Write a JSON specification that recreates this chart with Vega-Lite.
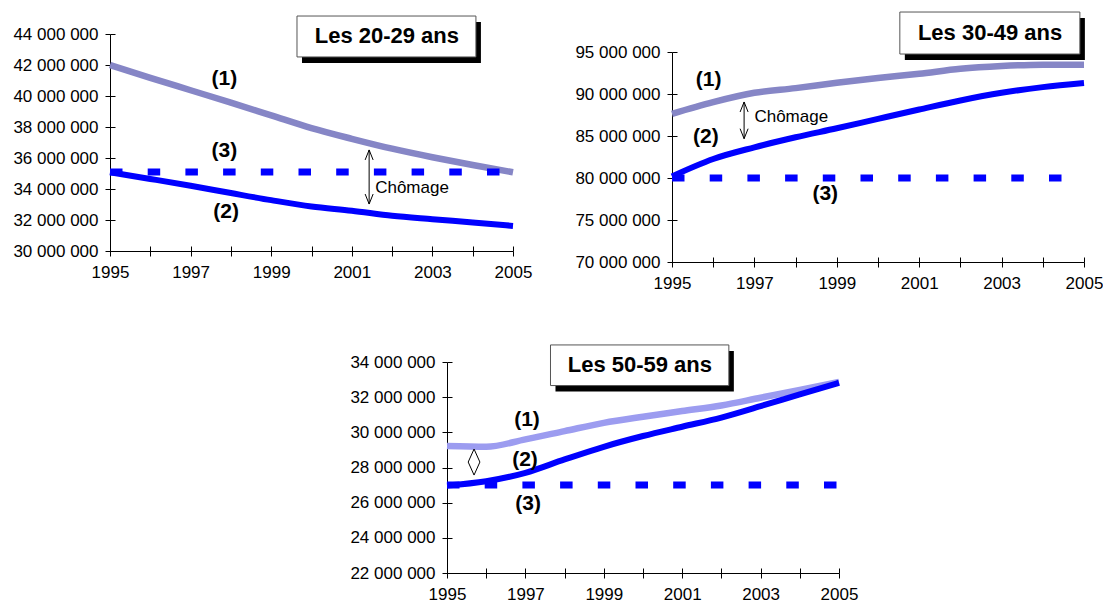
{
  "$schema": "https://vega.github.io/schema/vega-lite/v6.json",
  "background": "white",
  "padding": {"left": 12, "top": 11, "right": 0, "bottom": 0},
  "bounds": "flush",
  "spacing": 328,
  "config": {
    "view": {"stroke": null},
    "font": "Liberation Sans",
    "axis": {"labelFont": "Liberation Sans", "labelFontSize": 17, "labelColor": "black", "domainColor": "black", "tickColor": "black", "grid": false, "title": null, "tickSize": 5, "labelFlush": false, "labelOverlap": false},
    "axisX": {"labelPadding": 8},
    "axisY": {"labelPadding": 7}
  },
  "datasets": {
    "series": [
      {"p":"A","s":1,"yr":1995,"v":42000000},{"p":"A","s":1,"yr":1996,"v":41170000},{"p":"A","s":1,"yr":1997,"v":40370000},{"p":"A","s":1,"yr":1998,"v":39570000},{"p":"A","s":1,"yr":1999,"v":38750000},{"p":"A","s":1,"yr":2000,"v":37930000},{"p":"A","s":1,"yr":2001,"v":37240000},{"p":"A","s":1,"yr":2002,"v":36600000},{"p":"A","s":1,"yr":2003,"v":36050000},{"p":"A","s":1,"yr":2004,"v":35550000},{"p":"A","s":1,"yr":2005,"v":35080000},
      {"p":"A","s":2,"yr":1995,"v":35080000},{"p":"A","s":2,"yr":1996,"v":34650000},{"p":"A","s":2,"yr":1997,"v":34210000},{"p":"A","s":2,"yr":1998,"v":33740000},{"p":"A","s":2,"yr":1999,"v":33280000},{"p":"A","s":2,"yr":2000,"v":32870000},{"p":"A","s":2,"yr":2001,"v":32600000},{"p":"A","s":2,"yr":2002,"v":32270000},{"p":"A","s":2,"yr":2003,"v":32050000},{"p":"A","s":2,"yr":2004,"v":31840000},{"p":"A","s":2,"yr":2005,"v":31620000},
      {"p":"A","s":3,"yr":1995,"v":35100000},{"p":"A","s":3,"yr":1996,"v":35100000},{"p":"A","s":3,"yr":1997,"v":35100000},{"p":"A","s":3,"yr":1998,"v":35100000},{"p":"A","s":3,"yr":1999,"v":35100000},{"p":"A","s":3,"yr":2000,"v":35100000},{"p":"A","s":3,"yr":2001,"v":35100000},{"p":"A","s":3,"yr":2002,"v":35100000},{"p":"A","s":3,"yr":2003,"v":35100000},{"p":"A","s":3,"yr":2004,"v":35100000},{"p":"A","s":3,"yr":2005,"v":35100000},
      {"p":"B","s":1,"yr":1995,"v":87640000},{"p":"B","s":1,"yr":1996,"v":89030000},{"p":"B","s":1,"yr":1997,"v":90140000},{"p":"B","s":1,"yr":1998,"v":90700000},{"p":"B","s":1,"yr":1999,"v":91340000},{"p":"B","s":1,"yr":2000,"v":91900000},{"p":"B","s":1,"yr":2001,"v":92410000},{"p":"B","s":1,"yr":2002,"v":93000000},{"p":"B","s":1,"yr":2003,"v":93330000},{"p":"B","s":1,"yr":2004,"v":93490000},{"p":"B","s":1,"yr":2005,"v":93490000},
      {"p":"B","s":2,"yr":1995,"v":80190000},{"p":"B","s":2,"yr":1996,"v":82260000},{"p":"B","s":2,"yr":1997,"v":83650000},{"p":"B","s":2,"yr":1998,"v":84850000},{"p":"B","s":2,"yr":1999,"v":85920000},{"p":"B","s":2,"yr":2000,"v":87040000},{"p":"B","s":2,"yr":2001,"v":88150000},{"p":"B","s":2,"yr":2002,"v":89230000},{"p":"B","s":2,"yr":2003,"v":90140000},{"p":"B","s":2,"yr":2004,"v":90820000},{"p":"B","s":2,"yr":2005,"v":91300000},
      {"p":"B","s":3,"yr":1995,"v":80000000},{"p":"B","s":3,"yr":1996,"v":80000000},{"p":"B","s":3,"yr":1997,"v":80000000},{"p":"B","s":3,"yr":1998,"v":80000000},{"p":"B","s":3,"yr":1999,"v":80000000},{"p":"B","s":3,"yr":2000,"v":80000000},{"p":"B","s":3,"yr":2001,"v":80000000},{"p":"B","s":3,"yr":2002,"v":80000000},{"p":"B","s":3,"yr":2003,"v":80000000},{"p":"B","s":3,"yr":2004,"v":80000000},{"p":"B","s":3,"yr":2005,"v":80000000},
      {"p":"C","s":1,"yr":1995,"v":29220000},{"p":"C","s":1,"yr":1996,"v":29180000},{"p":"C","s":1,"yr":1997,"v":29600000},{"p":"C","s":1,"yr":1998,"v":30070000},{"p":"C","s":1,"yr":1999,"v":30540000},{"p":"C","s":1,"yr":2000,"v":30890000},{"p":"C","s":1,"yr":2001,"v":31210000},{"p":"C","s":1,"yr":2002,"v":31530000},{"p":"C","s":1,"yr":2003,"v":31970000},{"p":"C","s":1,"yr":2004,"v":32410000},{"p":"C","s":1,"yr":2005,"v":32860000},
      {"p":"C","s":2,"yr":1995,"v":26980000},{"p":"C","s":2,"yr":1996,"v":27220000},{"p":"C","s":2,"yr":1997,"v":27700000},{"p":"C","s":2,"yr":1998,"v":28460000},{"p":"C","s":2,"yr":1999,"v":29180000},{"p":"C","s":2,"yr":2000,"v":29790000},{"p":"C","s":2,"yr":2001,"v":30320000},{"p":"C","s":2,"yr":2002,"v":30840000},{"p":"C","s":2,"yr":2003,"v":31490000},{"p":"C","s":2,"yr":2004,"v":32160000},{"p":"C","s":2,"yr":2005,"v":32820000},
      {"p":"C","s":3,"yr":1995,"v":27000000},{"p":"C","s":3,"yr":1996,"v":27000000},{"p":"C","s":3,"yr":1997,"v":27000000},{"p":"C","s":3,"yr":1998,"v":27000000},{"p":"C","s":3,"yr":1999,"v":27000000},{"p":"C","s":3,"yr":2000,"v":27000000},{"p":"C","s":3,"yr":2001,"v":27000000},{"p":"C","s":3,"yr":2002,"v":27000000},{"p":"C","s":3,"yr":2003,"v":27000000},{"p":"C","s":3,"yr":2004,"v":27000000},{"p":"C","s":3,"yr":2005,"v":27000000}
    ],
    "labels": [
      {"p":"A","k":"n","t":"(1)","yr":1997.84,"v":41120000},
      {"p":"A","k":"n","t":"(3)","yr":1997.84,"v":36450000},
      {"p":"A","k":"n","t":"(2)","yr":1997.88,"v":32520000},
      {"p":"A","k":"c","t":"Chômage","yr":2001.58,"v":34060000},
      {"p":"B","k":"n","t":"(1)","yr":1995.89,"v":91630000},
      {"p":"B","k":"n","t":"(2)","yr":1995.82,"v":84880000},
      {"p":"B","k":"n","t":"(3)","yr":1998.72,"v":78130000},
      {"p":"B","k":"c","t":"Chômage","yr":1997.0,"v":87260000},
      {"p":"C","k":"n","t":"(1)","yr":1997.04,"v":30700000},
      {"p":"C","k":"n","t":"(2)","yr":1996.99,"v":28430000},
      {"p":"C","k":"n","t":"(3)","yr":1997.07,"v":25920000}
    ],
    "arrows": [
      {"p":"A","yr":2001.43,"v":36520000,"v2":33030000},
      {"p":"B","yr":1996.75,"v":89050000,"v2":84680000}
    ],
    "diamond": [
      {"p":"C","yr":1995.69,"v":28310000}
    ],
    "titles": [
      {"p":"A","t":"Les 20-29 ans","yr":1999.64,"yr2":2004.08,"v":45160000,"v2":42520000,"cx":2001.87,"cy":43840000},
      {"p":"B","t":"Les 30-49 ans","yr":2000.53,"yr2":2004.9,"v":99760000,"v2":94760000,"cx":2002.72,"cy":97260000},
      {"p":"C","t":"Les 50-59 ans","yr":1997.64,"yr2":2002.19,"v":34970000,"v2":32660000,"cx":1999.92,"cy":33830000}
    ]
  },
  "vconcat": [
    {
      "bounds": "flush",
      "spacing": 159,
      "hconcat": [
        {
          "width": 403,
          "height": 217,
          "resolve": {"axis": {"x": "independent", "y": "independent"}},
          "encoding": {
            "x": {"field": "yr", "type": "quantitative", "scale": {"domain": [1995, 2005], "nice": false, "zero": false}, "axis": null},
            "y": {"field": "v", "type": "quantitative", "scale": {"domain": [30000000, 44000000], "nice": false, "zero": false}, "axis": null}
          },
          "layer": [
            {"data": {"name": "series"}, "transform": [{"filter": "datum.p == 'A' && datum.s == 1"}], "mark": {"type": "line", "strokeWidth": 6.5, "color": "#8686c6", "interpolate": "monotone"},
             "encoding": {
               "x": {"field": "yr", "type": "quantitative", "axis": {"values": [1995,1996,1997,1998,1999,2000,2001,2002,2003,2004,2005], "labelExpr": "datum.value % 2 == 1 ? '' + datum.value : ''"}},
               "y": {"field": "v", "type": "quantitative", "axis": {"values": [30000000,32000000,34000000,36000000,38000000,40000000,42000000,44000000], "labelExpr": "replace(format(datum.value, ',d'), regexp(',', 'g'), ' ')"}}
             }},
            {"data": {"name": "series"}, "transform": [{"filter": "datum.p == 'A' && datum.s == 2"}], "mark": {"type": "line", "strokeWidth": 6, "color": "#0000ff", "interpolate": "monotone"},
             "encoding": {
               "x": {"field": "yr", "type": "quantitative", "axis": {"orient": "bottom", "values": [1995,1996,1997,1998,1999,2000,2001,2002,2003,2004,2005], "labels": false, "domain": false, "offset": -5, "tickSize": 5}},
               "y": {"field": "v", "type": "quantitative", "axis": {"orient": "left", "values": [30000000,32000000,34000000,36000000,38000000,40000000,42000000,44000000], "labels": false, "domain": false, "offset": -5, "tickSize": 5}}
             }},
            {"data": {"name": "series"}, "transform": [{"filter": "datum.p == 'A' && datum.s == 3"}], "mark": {"type": "line", "strokeWidth": 7, "color": "#0000ff", "strokeDash": [12.5, 25.2], "strokeCap": "butt"}},
            {"data": {"name": "labels"}, "transform": [{"filter": "datum.p == 'A' && datum.k == 'n'"}], "mark": {"type": "text", "fontWeight": "bold", "fontSize": 21, "align": "center", "baseline": "middle", "color": "black"}, "encoding": {"text": {"field": "t"}}},
            {"data": {"name": "labels"}, "transform": [{"filter": "datum.p == 'A' && datum.k == 'c'"}], "mark": {"type": "text", "fontSize": 17, "align": "left", "baseline": "middle", "color": "black"}, "encoding": {"text": {"field": "t"}}},
            {"data": {"name": "arrows"}, "transform": [{"filter": "datum.p == 'A'"}], "mark": {"type": "rule", "color": "black", "strokeWidth": 1}, "encoding": {"y2": {"field": "v2"}}},
            {"data": {"name": "arrows"}, "transform": [{"filter": "datum.p == 'A'"}], "mark": {"type": "point", "shape": "M-0.4,1L0,0L0.4,1", "size": 400, "filled": false, "color": "black", "strokeWidth": 1, "opacity": 1}},
            {"data": {"name": "arrows"}, "transform": [{"filter": "datum.p == 'A'"}], "mark": {"type": "point", "shape": "M-0.4,-1L0,0L0.4,-1", "size": 400, "filled": false, "color": "black", "strokeWidth": 1, "opacity": 1}, "encoding": {"y": {"field": "v2", "type": "quantitative"}}},
            {"data": {"name": "titles"}, "transform": [{"filter": "datum.p == 'A'"}], "mark": {"type": "rect", "fill": "black", "xOffset": 5, "x2Offset": 5, "yOffset": 6, "y2Offset": 6}, "encoding": {"x2": {"field": "yr2"}, "y2": {"field": "v2"}}},
            {"data": {"name": "titles"}, "transform": [{"filter": "datum.p == 'A'"}], "mark": {"type": "rect", "fill": "white", "stroke": "#555555", "strokeWidth": 1}, "encoding": {"x2": {"field": "yr2"}, "y2": {"field": "v2"}}},
            {"data": {"name": "titles"}, "transform": [{"filter": "datum.p == 'A'"}], "mark": {"type": "text", "fontWeight": "bold", "fontSize": 22, "align": "center", "baseline": "middle", "color": "black"}, "encoding": {"x": {"field": "cx", "type": "quantitative"}, "y": {"field": "cy", "type": "quantitative"}, "text": {"field": "t"}}}
          ]
        },
        {
          "bounds": "flush",
          "spacing": 0,
          "vconcat": [
            {"width": 412, "height": 18, "data": {"values": [{"a": 1}]}, "mark": {"type": "text", "text": ""}, "encoding": {}},
            {
              "width": 412,
              "height": 210,
              "resolve": {"axis": {"x": "independent", "y": "independent"}},
              "encoding": {
                "x": {"field": "yr", "type": "quantitative", "scale": {"domain": [1995, 2005], "nice": false, "zero": false}, "axis": null},
                "y": {"field": "v", "type": "quantitative", "scale": {"domain": [70000000, 95000000], "nice": false, "zero": false}, "axis": null}
              },
              "layer": [
                {"data": {"name": "series"}, "transform": [{"filter": "datum.p == 'B' && datum.s == 1"}], "mark": {"type": "line", "strokeWidth": 6.5, "color": "#8686c6", "interpolate": "monotone"},
                 "encoding": {
                   "x": {"field": "yr", "type": "quantitative", "axis": {"values": [1995,1996,1997,1998,1999,2000,2001,2002,2003,2004,2005], "labelExpr": "datum.value % 2 == 1 ? '' + datum.value : ''"}},
                   "y": {"field": "v", "type": "quantitative", "axis": {"values": [70000000,75000000,80000000,85000000,90000000,95000000], "labelExpr": "replace(format(datum.value, ',d'), regexp(',', 'g'), ' ')"}}
                 }},
                {"data": {"name": "series"}, "transform": [{"filter": "datum.p == 'B' && datum.s == 2"}], "mark": {"type": "line", "strokeWidth": 6, "color": "#0000ff", "interpolate": "monotone"},
                 "encoding": {
                   "x": {"field": "yr", "type": "quantitative", "axis": {"orient": "bottom", "values": [1995,1996,1997,1998,1999,2000,2001,2002,2003,2004,2005], "labels": false, "domain": false, "offset": -5, "tickSize": 5}},
                   "y": {"field": "v", "type": "quantitative", "axis": {"orient": "left", "values": [70000000,75000000,80000000,85000000,90000000,95000000], "labels": false, "domain": false, "offset": -5, "tickSize": 5}}
                 }},
                {"data": {"name": "series"}, "transform": [{"filter": "datum.p == 'B' && datum.s == 3"}], "mark": {"type": "line", "strokeWidth": 7, "color": "#0000ff", "strokeDash": [12.5, 25.2], "strokeCap": "butt"}},
                {"data": {"name": "labels"}, "transform": [{"filter": "datum.p == 'B' && datum.k == 'n'"}], "mark": {"type": "text", "fontWeight": "bold", "fontSize": 21, "align": "center", "baseline": "middle", "color": "black"}, "encoding": {"text": {"field": "t"}}},
                {"data": {"name": "labels"}, "transform": [{"filter": "datum.p == 'B' && datum.k == 'c'"}], "mark": {"type": "text", "fontSize": 17, "align": "left", "baseline": "middle", "color": "black"}, "encoding": {"text": {"field": "t"}}},
                {"data": {"name": "arrows"}, "transform": [{"filter": "datum.p == 'B'"}], "mark": {"type": "rule", "color": "black", "strokeWidth": 1}, "encoding": {"y2": {"field": "v2"}}},
                {"data": {"name": "arrows"}, "transform": [{"filter": "datum.p == 'B'"}], "mark": {"type": "point", "shape": "M-0.4,1L0,0L0.4,1", "size": 400, "filled": false, "color": "black", "strokeWidth": 1, "opacity": 1}},
                {"data": {"name": "arrows"}, "transform": [{"filter": "datum.p == 'B'"}], "mark": {"type": "point", "shape": "M-0.4,-1L0,0L0.4,-1", "size": 400, "filled": false, "color": "black", "strokeWidth": 1, "opacity": 1}, "encoding": {"y": {"field": "v2", "type": "quantitative"}}},
                {"data": {"name": "titles"}, "transform": [{"filter": "datum.p == 'B'"}], "mark": {"type": "rect", "fill": "black", "xOffset": 5, "x2Offset": 5, "yOffset": 6, "y2Offset": 6}, "encoding": {"x2": {"field": "yr2"}, "y2": {"field": "v2"}}},
                {"data": {"name": "titles"}, "transform": [{"filter": "datum.p == 'B'"}], "mark": {"type": "rect", "fill": "white", "stroke": "#555555", "strokeWidth": 1}, "encoding": {"x2": {"field": "yr2"}, "y2": {"field": "v2"}}},
                {"data": {"name": "titles"}, "transform": [{"filter": "datum.p == 'B'"}], "mark": {"type": "text", "fontWeight": "bold", "fontSize": 22, "align": "center", "baseline": "middle", "color": "black"}, "encoding": {"x": {"field": "cx", "type": "quantitative"}, "y": {"field": "cy", "type": "quantitative"}, "text": {"field": "t"}}}
              ]
            }
          ]
        }
      ]
    },
    {
      "bounds": "flush",
      "spacing": 0,
      "hconcat": [
        {"width": 337, "height": 1, "data": {"values": [{"a": 1}]}, "mark": {"type": "text", "text": ""}, "encoding": {}},
        {
          "width": 392,
          "height": 211,
          "resolve": {"axis": {"x": "independent", "y": "independent"}},
          "encoding": {
            "x": {"field": "yr", "type": "quantitative", "scale": {"domain": [1995, 2005], "nice": false, "zero": false}, "axis": null},
            "y": {"field": "v", "type": "quantitative", "scale": {"domain": [22000000, 34000000], "nice": false, "zero": false}, "axis": null}
          },
          "layer": [
            {"data": {"name": "series"}, "transform": [{"filter": "datum.p == 'C' && datum.s == 1"}], "mark": {"type": "line", "strokeWidth": 6.5, "color": "#9c9cf0", "interpolate": "monotone"},
             "encoding": {
               "x": {"field": "yr", "type": "quantitative", "axis": {"values": [1995,1996,1997,1998,1999,2000,2001,2002,2003,2004,2005], "labelExpr": "datum.value % 2 == 1 ? '' + datum.value : ''"}},
               "y": {"field": "v", "type": "quantitative", "axis": {"values": [22000000,24000000,26000000,28000000,30000000,32000000,34000000], "labelExpr": "replace(format(datum.value, ',d'), regexp(',', 'g'), ' ')"}}
             }},
            {"data": {"name": "series"}, "transform": [{"filter": "datum.p == 'C' && datum.s == 2"}], "mark": {"type": "line", "strokeWidth": 6, "color": "#0000ff", "interpolate": "monotone"},
             "encoding": {
               "x": {"field": "yr", "type": "quantitative", "axis": {"orient": "bottom", "values": [1995,1996,1997,1998,1999,2000,2001,2002,2003,2004,2005], "labels": false, "domain": false, "offset": -5, "tickSize": 5}},
               "y": {"field": "v", "type": "quantitative", "axis": {"orient": "left", "values": [22000000,24000000,26000000,28000000,30000000,32000000,34000000], "labels": false, "domain": false, "offset": -5, "tickSize": 5}}
             }},
            {"data": {"name": "series"}, "transform": [{"filter": "datum.p == 'C' && datum.s == 3"}], "mark": {"type": "line", "strokeWidth": 7, "color": "#0000ff", "strokeDash": [12.5, 25.2], "strokeCap": "butt"}},
            {"data": {"name": "labels"}, "transform": [{"filter": "datum.p == 'C' && datum.k == 'n'"}], "mark": {"type": "text", "fontWeight": "bold", "fontSize": 21, "align": "center", "baseline": "middle", "color": "black"}, "encoding": {"text": {"field": "t"}}},
            {"data": {"name": "diamond"}, "transform": [{"filter": "datum.p == 'C'"}], "mark": {"type": "point", "shape": "M0,-1L0.45,0L0,1L-0.45,0Z", "size": 676, "filled": false, "color": "black", "strokeWidth": 1, "opacity": 1}},
            {"data": {"name": "titles"}, "transform": [{"filter": "datum.p == 'C'"}], "mark": {"type": "rect", "fill": "black", "xOffset": 5, "x2Offset": 5, "yOffset": 6, "y2Offset": 6}, "encoding": {"x2": {"field": "yr2"}, "y2": {"field": "v2"}}},
            {"data": {"name": "titles"}, "transform": [{"filter": "datum.p == 'C'"}], "mark": {"type": "rect", "fill": "white", "stroke": "#555555", "strokeWidth": 1}, "encoding": {"x2": {"field": "yr2"}, "y2": {"field": "v2"}}},
            {"data": {"name": "titles"}, "transform": [{"filter": "datum.p == 'C'"}], "mark": {"type": "text", "fontWeight": "bold", "fontSize": 22, "align": "center", "baseline": "middle", "color": "black"}, "encoding": {"x": {"field": "cx", "type": "quantitative"}, "y": {"field": "cy", "type": "quantitative"}, "text": {"field": "t"}}}
          ]
        }
      ]
    }
  ]
}
